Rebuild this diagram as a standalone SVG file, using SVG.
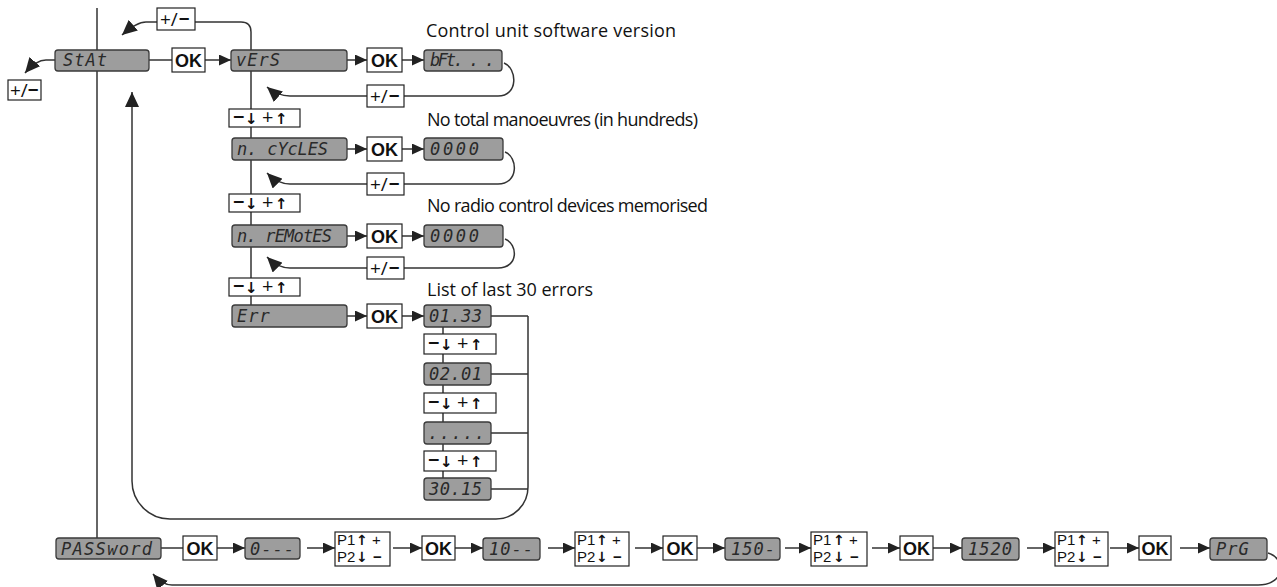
<svg xmlns="http://www.w3.org/2000/svg" width="1277" height="587" viewBox="0 0 1277 587">
<defs>
<style>
.disp rect{fill:#9d9d9d;stroke:#3a3a3a;stroke-width:1.3}
.disp text{font-family:"DejaVu Sans Mono","Liberation Mono",monospace;font-style:italic;font-size:17px;fill:#2a2a2a;letter-spacing:1px}
.btn rect{fill:#fff;stroke:#222;stroke-width:1.2}
.btn text{font-family:"Liberation Sans","DejaVu Sans",sans-serif;fill:#111}
.ok text{font-weight:bold;font-size:18px;text-anchor:middle}
.pm text{font-family:"Open Sans","Liberation Sans",sans-serif;font-size:19px}
.ud text{font-family:"Open Sans","Liberation Sans",sans-serif;font-size:20px}
.pp text{font-family:"Liberation Sans","DejaVu Sans",sans-serif;font-size:15px}
.btn tspan.ar{font-family:"DejaVu Sans",sans-serif;font-weight:bold;font-size:15px}
.pp tspan.ar{font-size:14px}
.lbl{font-family:"Open Sans","Liberation Sans",sans-serif;font-size:18px;fill:#111}
.conn path{fill:none;stroke:#333;stroke-width:1.5}
.b{font-weight:bold}
</style>
<marker id="ah" viewBox="0 0 12 11" refX="12" refY="5.5" markerWidth="12" markerHeight="11" markerUnits="userSpaceOnUse" orient="auto"><path d="M0,0 L12,5.5 L0,11 z" fill="#222"/></marker>
<marker id="ab" viewBox="0 0 15 14" refX="15" refY="7" markerWidth="15" markerHeight="14" markerUnits="userSpaceOnUse" orient="auto"><path d="M0,0 L15,7 L0,14 z" fill="#222"/></marker>
</defs>
<rect width="1277" height="587" fill="#fff"/>

<g id="connectors" class="conn">
<path d="M97,8 V538"/>
<path d="M251,50 V32 Q251,22 241,22 H195"/>
<path d="M157,22 H146 C138,22 130,28 122,35" marker-end="url(#ab)"/>
<path d="M55,60 H46 C38,60 31,66 25,73" marker-end="url(#ab)"/>
<path d="M149,60 H172"/>
<path d="M205,60 H231" marker-end="url(#ah)"/>
<path d="M347,60 H367" marker-end="url(#ah)"/>
<path d="M402,60 H424" marker-end="url(#ah)"/>
<path d="M251,71 V305"/>
<path d="M504,63 C517,68 519,96 498,96 H404"/>
<path d="M367,96 H290 C281,96 274,93 267,87" marker-end="url(#ab)"/>
<path d="M347,149 H367" marker-end="url(#ah)"/>
<path d="M402,149 H424" marker-end="url(#ah)"/>
<path d="M505,152 C518,157 519,184 498,184 H404"/>
<path d="M367,184 H290 C281,184 274,180 267,173" marker-end="url(#ab)"/>
<path d="M347,236 H367" marker-end="url(#ah)"/>
<path d="M402,236 H424" marker-end="url(#ah)"/>
<path d="M505,239 C518,244 519,268 498,268 H404"/>
<path d="M367,268 H290 C281,268 274,264 267,257" marker-end="url(#ab)"/>
<path d="M347,316 H367" marker-end="url(#ah)"/>
<path d="M402,316 H424" marker-end="url(#ah)"/>
<path d="M443,327 V478"/>
<path d="M491,316 H528 M491,374 H528 M491,433 H528 M491,489 H528"/>
<path d="M528,316 V487 A32,32 0 0 1 496,519 H170 A38,38 0 0 1 132,481 V92" marker-end="url(#ab)"/>
<path d="M161,548 H183"/>
<path d="M217,548 H245" marker-end="url(#ah)"/>
<path d="M307,548 H335" marker-end="url(#ah)"/>
<path d="M393,548 H422" marker-end="url(#ah)"/>
<path d="M455,548 H483" marker-end="url(#ah)"/>
<path d="M548,548 H575" marker-end="url(#ah)"/>
<path d="M635,548 H663" marker-end="url(#ah)"/>
<path d="M697,548 H725" marker-end="url(#ah)"/>
<path d="M785,548 H811" marker-end="url(#ah)"/>
<path d="M872,548 H900" marker-end="url(#ah)"/>
<path d="M933,548 H962" marker-end="url(#ah)"/>
<path d="M1027,548 H1055" marker-end="url(#ah)"/>
<path d="M1110,548 H1139" marker-end="url(#ah)"/>
<path d="M1180,548 H1210" marker-end="url(#ah)"/>
<path d="M1268,553 C1286,558 1286,585 1258,585 H172 C165,585 158,580 153,574" marker-end="url(#ab)"/>
</g>

<text class="lbl" x="426" y="37" textLength="250" lengthAdjust="spacing">Control unit software version</text>
<text class="lbl" x="427" y="126" textLength="271" lengthAdjust="spacing">No total manoeuvres (in hundreds)</text>
<text class="lbl" x="427" y="212" textLength="281" lengthAdjust="spacing">No radio control devices memorised</text>
<text class="lbl" x="427" y="296" textLength="166" lengthAdjust="spacing">List of last 30 errors</text>

<g id="stat" class="disp"><rect x="55" y="50" width="94" height="21" rx="3"/><text x="63" y="66">StAt</text></g>
<g id="pm-top" class="btn pm"><rect x="157" y="8" width="38" height="22"/><text x="160" y="26">+/<tspan class="b" dx="1">−</tspan></text></g>
<g id="pm-left" class="btn pm"><rect x="8" y="80" width="33" height="20"/><text x="10" y="97">+/<tspan class="b">−</tspan></text></g>
<g id="ok-stat" class="btn ok"><rect x="172" y="48" width="33" height="24"/><text x="188.5" y="67">OK</text></g>

<g id="vers" class="disp"><rect x="231" y="50" width="116" height="21" rx="3"/><text x="236" y="66">vErS</text></g>
<g id="ok-vers" class="btn ok"><rect x="367" y="48" width="35" height="24"/><text x="384.5" y="67">OK</text></g>
<g id="bft" class="disp"><rect x="424" y="50" width="78" height="21" rx="3"/><text x="430" y="66" textLength="66" lengthAdjust="spacing">bFt. . .</text></g>
<g id="pm-vers" class="btn pm"><rect x="367" y="85" width="37" height="22"/><text x="370" y="103">+/<tspan class="b" dx="1">−</tspan></text></g>

<g id="ud1" class="btn ud"><rect x="229" y="109" width="71" height="18"/><text x="233 245 262 275" y="124"><tspan class="b">−</tspan><tspan class="ar">↓</tspan>+<tspan class="ar">↑</tspan></text></g>
<g id="ncycles" class="disp"><rect x="232" y="138" width="115" height="22" rx="3"/><text x="237" y="155" textLength="92" lengthAdjust="spacing">n. cYcLES</text></g>
<g id="ok-ncycles" class="btn ok"><rect x="367" y="137" width="35" height="24"/><text x="384.5" y="156">OK</text></g>
<g id="cyc-val" class="disp"><rect x="424" y="138" width="79" height="22" rx="3"/><text x="430" y="155" textLength="50" lengthAdjust="spacing">0000</text></g>
<g id="pm-ncycles" class="btn pm"><rect x="367" y="173" width="37" height="22"/><text x="370" y="191">+/<tspan class="b" dx="1">−</tspan></text></g>

<g id="ud2" class="btn ud"><rect x="229" y="194" width="71" height="18"/><text x="233 245 262 275" y="209"><tspan class="b">−</tspan><tspan class="ar">↓</tspan>+<tspan class="ar">↑</tspan></text></g>
<g id="nremotes" class="disp"><rect x="232" y="225" width="115" height="22" rx="3"/><text x="237" y="242" textLength="96" lengthAdjust="spacing">n. rEMotES</text></g>
<g id="ok-nremotes" class="btn ok"><rect x="367" y="224" width="35" height="24"/><text x="384.5" y="243">OK</text></g>
<g id="rem-val" class="disp"><rect x="424" y="225" width="79" height="22" rx="3"/><text x="430" y="242" textLength="50" lengthAdjust="spacing">0000</text></g>
<g id="pm-nremotes" class="btn pm"><rect x="367" y="257" width="37" height="22"/><text x="370" y="275">+/<tspan class="b" dx="1">−</tspan></text></g>

<g id="ud3" class="btn ud"><rect x="229" y="278" width="71" height="18"/><text x="233 245 262 275" y="293"><tspan class="b">−</tspan><tspan class="ar">↓</tspan>+<tspan class="ar">↑</tspan></text></g>
<g id="err" class="disp"><rect x="232" y="305" width="115" height="22" rx="3"/><text x="237" y="322">Err</text></g>
<g id="ok-err" class="btn ok"><rect x="367" y="304" width="35" height="24"/><text x="384.5" y="323">OK</text></g>
<g id="e1" class="disp"><rect x="424" y="305" width="67" height="22" rx="3"/><text x="429" y="322" textLength="54" lengthAdjust="spacing">01.33</text></g>
<g id="ud4" class="btn ud"><rect x="424" y="334" width="72" height="20"/><text x="428 440 457 470" y="350"><tspan class="b">−</tspan><tspan class="ar">↓</tspan>+<tspan class="ar">↑</tspan></text></g>
<g id="e2" class="disp"><rect x="424" y="363" width="67" height="22" rx="3"/><text x="429" y="380" textLength="54" lengthAdjust="spacing">02.01</text></g>
<g id="ud5" class="btn ud"><rect x="424" y="393" width="72" height="20"/><text x="428 440 457 470" y="409"><tspan class="b">−</tspan><tspan class="ar">↓</tspan>+<tspan class="ar">↑</tspan></text></g>
<g id="e3" class="disp"><rect x="424" y="422" width="67" height="22" rx="3"/><text x="428" y="439" textLength="58" lengthAdjust="spacing">.....</text></g>
<g id="ud6" class="btn ud"><rect x="424" y="451" width="72" height="20"/><text x="428 440 457 470" y="467"><tspan class="b">−</tspan><tspan class="ar">↓</tspan>+<tspan class="ar">↑</tspan></text></g>
<g id="e4" class="disp"><rect x="424" y="478" width="67" height="22" rx="3"/><text x="429" y="495" textLength="54" lengthAdjust="spacing">30.15</text></g>

<g id="password" class="disp"><rect x="56" y="538" width="105" height="21" rx="3"/><text x="61" y="555" textLength="92" lengthAdjust="spacing">PASSword</text></g>
<g id="ok-pw" class="btn ok"><rect x="183" y="536" width="34" height="24"/><text x="200" y="555">OK</text></g>
<g id="pw1" class="disp"><rect x="245" y="538" width="55" height="21" rx="3"/><text x="250" y="555">0---</text></g>
<g id="p1" class="btn pp"><rect x="335" y="532" width="55" height="34"/><text x="337 347 356 372" y="545">P1<tspan class="ar">↑</tspan>+</text><text x="337 347 356 373" y="562">P2<tspan class="ar">↓</tspan><tspan class="b">−</tspan></text></g>
<g id="ok-p1" class="btn ok"><rect x="422" y="536" width="33" height="24"/><text x="438.5" y="555">OK</text></g>
<g id="pw2" class="disp"><rect x="483" y="538" width="57" height="22" rx="3"/><text x="489" y="555">10--</text></g>
<g id="p2" class="btn pp"><rect x="575" y="532" width="54" height="34"/><text x="577 587 596 612" y="545">P1<tspan class="ar">↑</tspan>+</text><text x="577 587 596 613" y="562">P2<tspan class="ar">↓</tspan><tspan class="b">−</tspan></text></g>
<g id="ok-p2" class="btn ok"><rect x="663" y="536" width="34" height="24"/><text x="680" y="555">OK</text></g>
<g id="pw3" class="disp"><rect x="725" y="538" width="55" height="22" rx="3"/><text x="731" y="555">150-</text></g>
<g id="p3" class="btn pp"><rect x="811" y="532" width="56" height="34"/><text x="813 823 833 849" y="545">P1<tspan class="ar">↑</tspan>+</text><text x="813 823 833 850" y="562">P2<tspan class="ar">↓</tspan><tspan class="b">−</tspan></text></g>
<g id="ok-p3" class="btn ok"><rect x="900" y="536" width="33" height="24"/><text x="916.5" y="555">OK</text></g>
<g id="pw4" class="disp"><rect x="962" y="538" width="57" height="22" rx="3"/><text x="968" y="555">1520</text></g>
<g id="p4" class="btn pp"><rect x="1055" y="532" width="53" height="34"/><text x="1057 1067 1076 1092" y="545">P1<tspan class="ar">↑</tspan>+</text><text x="1057 1067 1076 1093" y="562">P2<tspan class="ar">↓</tspan><tspan class="b">−</tspan></text></g>
<g id="ok-p4" class="btn ok"><rect x="1139" y="536" width="32" height="24"/><text x="1155" y="555">OK</text></g>
<g id="prg" class="disp"><rect x="1210" y="538" width="57" height="22" rx="3"/><text x="1216" y="555">PrG</text></g>
</svg>
